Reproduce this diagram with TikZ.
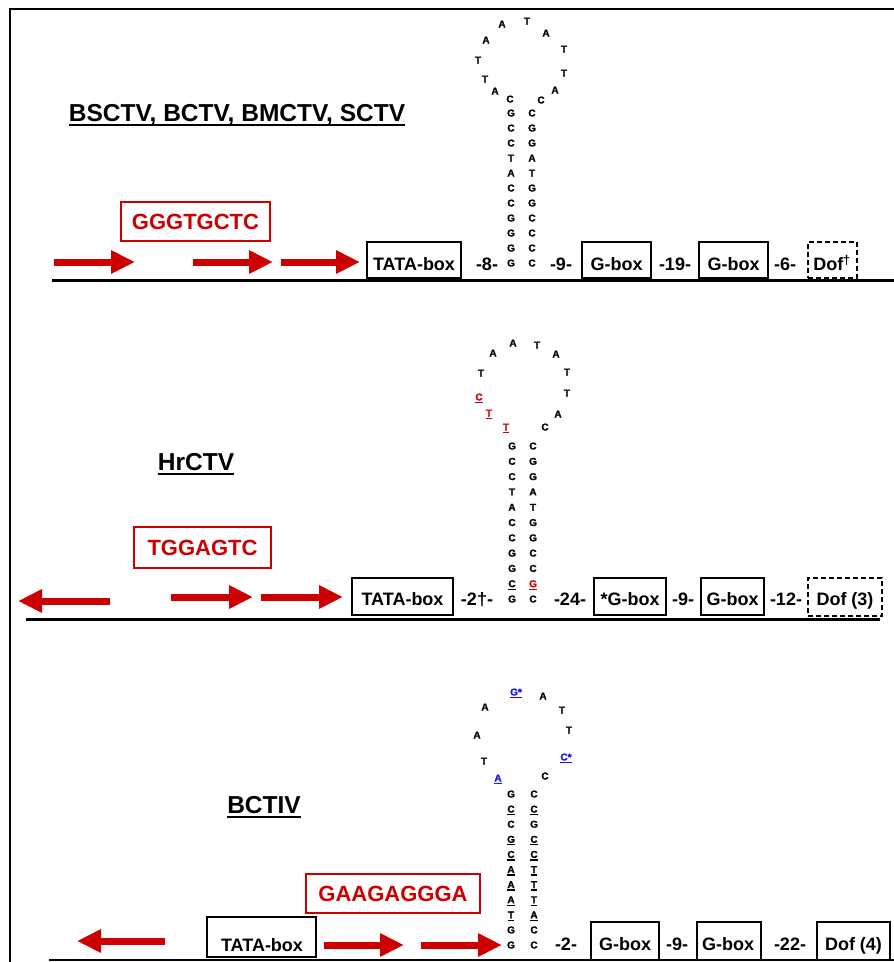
\documentclass[tikz,border=0pt]{standalone}
\usepackage{fontspec}
\setmainfont{Liberation Sans}
\newfontfamily\hpfont{Liberation Sans}[BoldFeatures={FakeBold=1.3}]
\usetikzlibrary{arrows.meta}
\definecolor{dred}{RGB}{204,0,0}
\definecolor{dblue}{RGB}{20,20,235}
\newcommand\hpul[1]{\setbox0\hbox{#1}\rlap{\rule[-2.6pt]{\wd0}{1.3pt}}\box0}
\begin{document}
\begin{tikzpicture}[x=1pt,y=-1pt,
  lbl/.style={font=\fontsize{18}{18}\selectfont\bfseries, inner sep=0pt, text height=13pt, text depth=0pt},
  ttl/.style={font=\fontsize{24.5}{24.5}\selectfont\bfseries, inner sep=0pt, text height=17.5pt, text depth=0pt},
  seqbox/.style={draw=dred, line width=1.8pt, text=dred, font=\fontsize{22}{22}\selectfont\bfseries, inner sep=0pt},
  gbox/.style={draw, line width=1.8pt, inner sep=0pt},
  dbox/.style={draw, line width=1.6pt, dash pattern=on 5pt off 3pt, inner sep=0pt},
  hl/.style={font=\hpfont\fontsize{10}{10}\selectfont\bfseries, inner sep=0pt, text height=7pt, text depth=0pt},
  rarrow/.style={draw=dred, line width=7pt, -{Triangle[length=24pt,width=22pt]}},
  uline/.style={line width=2.4pt}
]
\useasboundingbox (0,0) rectangle (894,962);
% frame
\coordinate (fTL) at (10,9); \coordinate (fTR) at (894,9); \coordinate (fBL) at (10,962);
\draw[line width=2pt] (fTR) -- (fTL) -- (fBL);

%================ TOP =================
\node[ttl] (title1) at (237,113) {BSCTV, BCTV, BMCTV, SCTV};
\draw[uline] ([yshift=-3pt]title1.south west) -- ([yshift=-3pt]title1.south east);
\node[seqbox, minimum width=149pt, minimum height=39pt] (seq1) at (195.5,221.5) {GGGTGCTC};
\coordinate (a1s) at (54,262); \coordinate (a1e) at (135,262);
\coordinate (a2s) at (193,262); \coordinate (a2e) at (273,262);
\coordinate (a3s) at (281,262); \coordinate (a3e) at (360,262);
\draw[rarrow] (a1s) -- (a1e);
\draw[rarrow] (a2s) -- (a2e);
\draw[rarrow] (a3s) -- (a3e);
\coordinate (b1l) at (52,280); \coordinate (b1r) at (894,280);
\draw[line width=3pt] (b1l) -- (b1r);
\node[gbox, minimum width=94pt, minimum height=36pt] (tata1) at (414,260) {};
\node[lbl] (tata1t) at (414,264) {TATA-box};
\node[lbl] (s1a) at (487,264) {-8-};
\node[lbl] (s1b) at (561,264) {-9-};
\node[gbox, minimum width=69pt, minimum height=36pt] (g1a) at (616.5,260) {};
\node[lbl] (g1at) at (616.5,264) {G-box};
\node[lbl] (s1c) at (675,264) {-19-};
\node[gbox, minimum width=69pt, minimum height=36pt] (g1b) at (733.5,260) {};
\node[lbl] (g1bt) at (733.5,264) {G-box};
\node[lbl] (s1d) at (785,264) {-6-};
\node[dbox, minimum width=49pt, minimum height=36pt] (d1) at (832.5,260) {};
\node[lbl] (d1t) at (832,264) {Dof\textsuperscript{†}};
% hairpin top
\foreach \l [count=\i from 0] in {G,C,C,T,A,C,C,G,G,G,G}
  \node[hl] (tL\i) at (511,113+15*\i) {\l};
\foreach \l [count=\i from 0] in {C,G,G,A,T,G,G,C,C,C,C}
  \node[hl] (tR\i) at (532,113+15*\i) {\l};
\node[hl] (tp1) at (510,99) {C};
\node[hl] (tp2) at (495,91) {A};
\node[hl] (tp3) at (485,79) {T};
\node[hl] (tp4) at (478,60) {T};
\node[hl] (tp5) at (486,40) {A};
\node[hl] (tp6) at (502,24) {A};
\node[hl] (tp7) at (527,21) {T};
\node[hl] (tp8) at (546,33) {A};
\node[hl] (tp9) at (564,49) {T};
\node[hl] (tp10) at (564,73) {T};
\node[hl] (tp11) at (555,90) {A};
\node[hl] (tp12) at (541,100) {C};

%================ MIDDLE =================
\node[ttl] (title2) at (196,462) {HrCTV};
\draw[uline] ([yshift=-3pt]title2.south west) -- ([yshift=-3pt]title2.south east);
\node[seqbox, minimum width=137pt, minimum height=41pt] (seq2) at (202.5,547.5) {TGGAGTC};
\coordinate (m0s) at (110,601); \coordinate (m0e) at (18,601);
\coordinate (m1s) at (171,597); \coordinate (m1e) at (253,597);
\coordinate (m2s) at (261,597); \coordinate (m2e) at (343,597);
\draw[rarrow] (m0s) -- (m0e);
\draw[rarrow] (m1s) -- (m1e);
\draw[rarrow] (m2s) -- (m2e);
\coordinate (b2l) at (26,619); \coordinate (b2r) at (880,619);
\draw[line width=3pt] (b2l) -- (b2r);
\node[gbox, minimum width=101pt, minimum height=37pt] (tata2) at (402.5,596.5) {};
\node[lbl] (tata2t) at (402.5,599) {TATA-box};
\node[lbl] (s2a) at (477,599) {-2†-};
\node[lbl] (s2b) at (570,599) {-24-};
\node[gbox, minimum width=72pt, minimum height=37pt] (g2a) at (630,596.5) {};
\node[lbl] (g2at) at (630,599) {*G-box};
\node[lbl] (s2c) at (683,599) {-9-};
\node[gbox, minimum width=63pt, minimum height=37pt] (g2b) at (732.5,596.5) {};
\node[lbl] (g2bt) at (732.5,599) {G-box};
\node[lbl] (s2d) at (786,599) {-12-};
\node[dbox, minimum width=74pt, minimum height=38pt] (d2) at (845,597) {};
\node[lbl] (d2t) at (845,599) {Dof (3)};
% hairpin middle
\foreach \l [count=\i from 0] in {G,C,C,T,A,C,C,G,G,{\hpul{C}},G}
  \node[hl] (mL\i) at (512,446+15.3*\i) {\l};
\foreach \l [count=\i from 0] in {C,G,G,A,T,G,G,C,C,{\textcolor{dred}{\hpul{G}}},C}
  \node[hl] (mR\i) at (533,446+15.3*\i) {\l};
\node[hl, text=dred] (mp1) at (506,427) {\hpul{T}};
\node[hl, text=dred] (mp2) at (489,413) {\hpul{T}};
\node[hl, text=dred] (mp3) at (479,397) {\hpul{C}};
\node[hl] (mp4) at (481,373) {T};
\node[hl] (mp5) at (493,353) {A};
\node[hl] (mp6) at (513,343) {A};
\node[hl] (mp7) at (537,345) {T};
\node[hl] (mp8) at (556,354) {A};
\node[hl] (mp9) at (567,372) {T};
\node[hl] (mp10) at (567,393) {T};
\node[hl] (mp11) at (558,414) {A};
\node[hl] (mp12) at (545,427) {C};

%================ BOTTOM =================
\node[ttl] (title3) at (264,805) {BCTIV};
\draw[uline] ([yshift=-3pt]title3.south west) -- ([yshift=-3pt]title3.south east);
\node[seqbox, minimum width=174pt, minimum height=39pt] (seq3) at (393,893.5) {GAAGAGGGA};
\coordinate (c0s) at (165,941); \coordinate (c0e) at (77,941);
\coordinate (c1s) at (324,945); \coordinate (c1e) at (404,945);
\coordinate (c2s) at (421,945); \coordinate (c2e) at (502,945);
\draw[rarrow] (c0s) -- (c0e);
\draw[rarrow] (c1s) -- (c1e);
\draw[rarrow] (c2s) -- (c2e);
\coordinate (b3l) at (49,960); \coordinate (b3r) at (894,960);
\draw[line width=2pt] (b3l) -- (b3r);
\node[gbox, minimum width=109pt, minimum height=40pt] (tata3) at (261.5,937) {};
\node[lbl] (tata3t) at (262,945) {TATA-box};
\node[lbl] (s3a) at (566,944) {-2-};
\node[gbox, minimum width=68pt, minimum height=38pt] (g3a) at (625,941) {};
\node[lbl] (g3at) at (625,944) {G-box};
\node[lbl] (s3b) at (677,944) {-9-};
\node[gbox, minimum width=64pt, minimum height=38pt] (g3b) at (729,941) {};
\node[lbl] (g3bt) at (728,944) {G-box};
\node[lbl] (s3c) at (790,944) {-22-};
\node[gbox, minimum width=73pt, minimum height=38pt] (d3) at (853.5,941) {};
\node[lbl] (d3t) at (853.5,944) {Dof (4)};
% hairpin bottom
\foreach \l [count=\i from 0] in {G,{\hpul{C}},C,{\hpul{G}},{\hpul{C}},{\hpul{A}},{\hpul{A}},{\hpul{A}},{\hpul{T}},G,G}
  \node[hl] (bL\i) at (511,794+15.1*\i) {\l};
\foreach \l [count=\i from 0] in {C,{\hpul{C}},G,{\hpul{C}},{\hpul{C}},{\hpul{T}},{\hpul{T}},{\hpul{T}},{\hpul{A}},C,C}
  \node[hl] (bR\i) at (534,794+15.1*\i) {\l};
\node[hl, text=dblue] (bp1) at (498,778) {\hpul{A}};
\node[hl] (bp2) at (484,761) {T};
\node[hl] (bp3) at (477,735) {A};
\node[hl] (bp4) at (485,707) {A};
\node[hl, text=dblue] (bp5) at (516,692) {\hpul{G*}};
\node[hl] (bp6) at (543,696) {A};
\node[hl] (bp7) at (562,710) {T};
\node[hl] (bp8) at (569,730) {T};
\node[hl, text=dblue] (bp9) at (566,757) {\hpul{C*}};
\node[hl] (bp10) at (545,776) {C};
\end{tikzpicture}
\end{document}
